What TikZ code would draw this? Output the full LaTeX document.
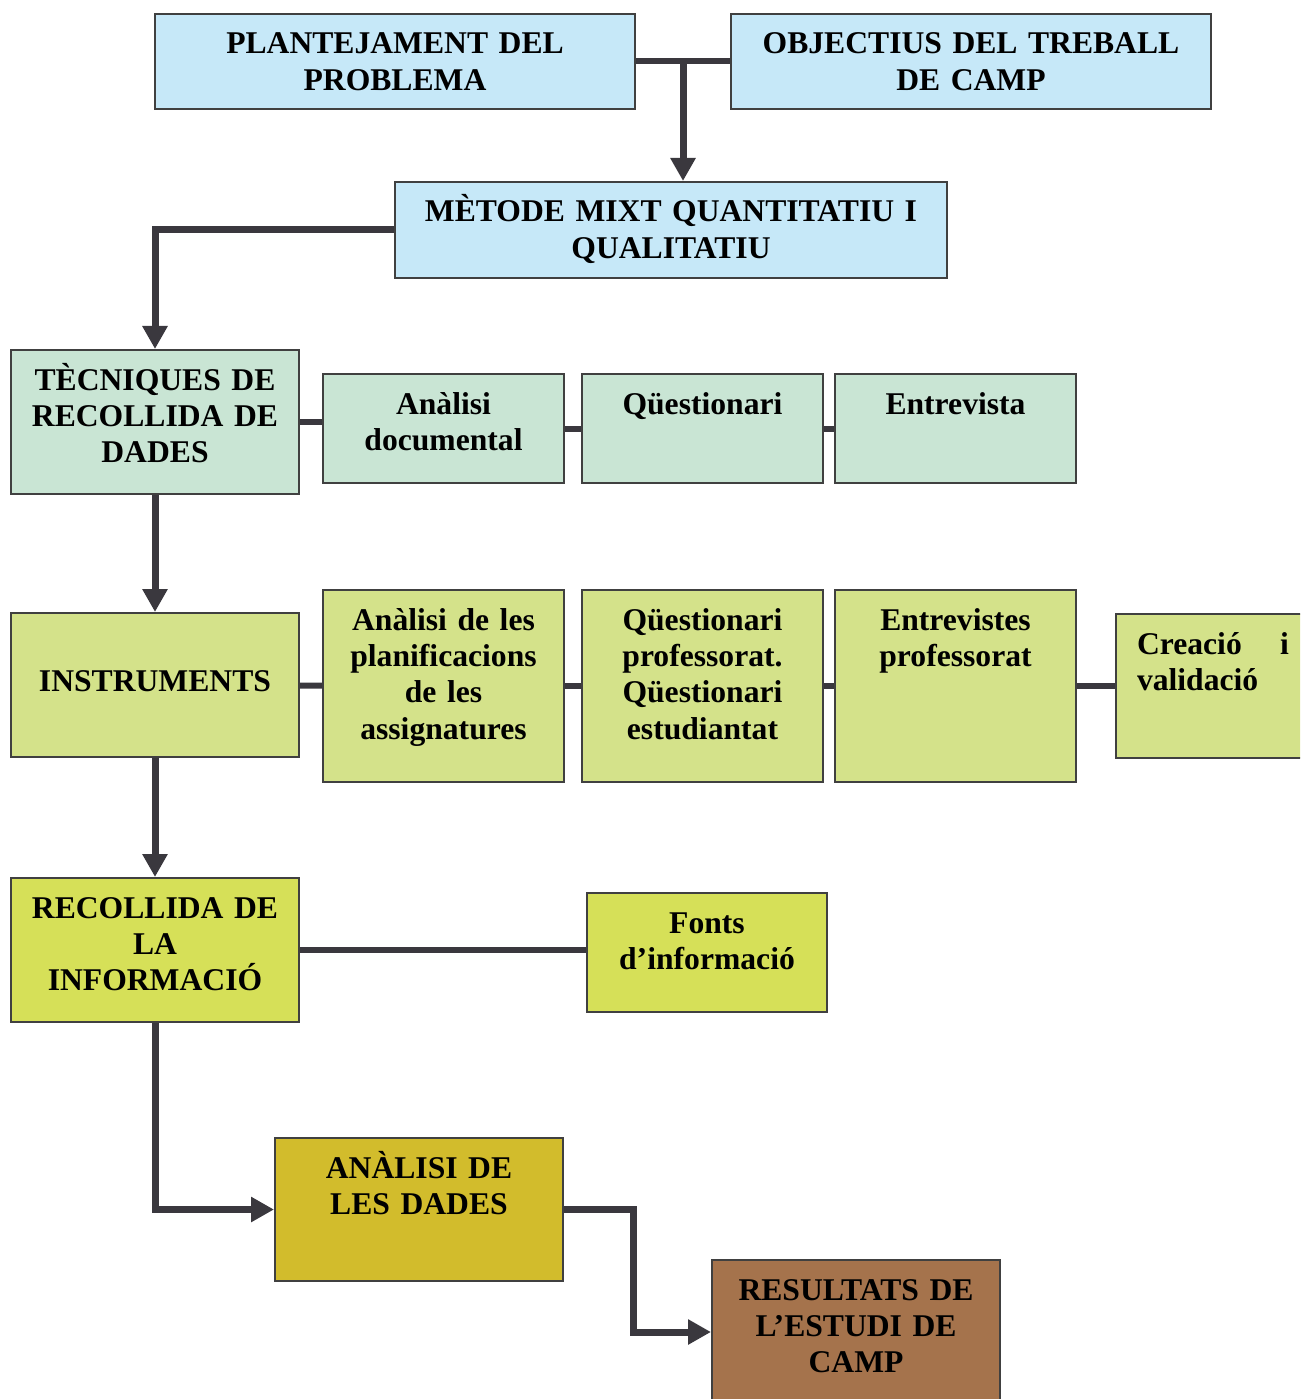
\documentclass[tikz,border=0pt]{standalone}
\usepackage{fontspec}
\setmainfont{Liberation Serif}
\usetikzlibrary{positioning,arrows.meta,calc}
\definecolor{blau}{RGB}{198,232,248}
\definecolor{verd}{RGB}{201,229,212}
\definecolor{oliva}{RGB}{212,226,138}
\definecolor{llima}{RGB}{214,224,88}
\definecolor{mostassa}{RGB}{210,188,44}
\definecolor{terra}{RGB}{165,115,76}
\definecolor{vora}{RGB}{64,64,64}
\definecolor{fosc}{RGB}{58,56,62}

\begin{document}
\begin{tikzpicture}[
  box/.style={rectangle,draw=vora,line width=0.04cm,anchor=north,align=center,
    inner xsep=0.1cm,inner ysep=0pt,text height=0.8cm,
    font=\fontsize{18}{20.7}\selectfont\bfseries},
  gran/.style={box,text width=5.56cm,text depth=2.08cm},
  mitja/.style={box,text width=4.62cm},
  lnk/.style={line width=0.12cm,draw=fosc},
  arr/.style={line width=0.14cm,draw=fosc,-{Triangle[length=0.46cm,width=0.48cm]}}]
\useasboundingbox (0,0) rectangle (26,-27.98);
\clip (0,0) rectangle (26,-27.98);
\node[box,fill=blau,text width=9.4cm,text depth=1.1cm] (plant) at (7.9,-0.26) {PLANTEJAMENT DEL\\PROBLEMA};
\node[box,fill=blau,text width=9.4cm,text depth=1.1cm,right=1.88cm of plant] (obj) {OBJECTIUS DEL TREBALL\\DE CAMP};
\node[box,fill=blau,text width=10.84cm,text depth=1.12cm] (met) at (13.42,-3.62) {MÈTODE MIXT QUANTITATIU I\\QUALITATIU};
\node[gran,fill=verd] (tec) at (3.1,-6.98) {TÈCNIQUES DE\\RECOLLIDA DE\\DADES};
\node[mitja,fill=verd,text depth=1.38cm] (ana) at (8.87,-7.46) {Anàlisi\\documental};
\node[mitja,fill=verd,text depth=1.38cm,right=0.32cm of ana] (que) {Qüestionari};
\node[mitja,fill=verd,text depth=1.38cm,right=0.2cm of que] (ent) {Entrevista};
\node[gran,fill=oliva,text height=1.56cm,text depth=1.32cm] (ins) at (3.1,-12.24) {INSTRUMENTS};
\node[mitja,fill=oliva,text depth=3.04cm] (pla) at (8.87,-11.78) {Anàlisi de les\\planificacions\\de les\\assignatures};
\node[mitja,fill=oliva,text depth=3.04cm,right=0.32cm of pla] (qpe) {Qüestionari\\professorat.\\Qüestionari\\estudiantat};
\node[mitja,fill=oliva,text depth=3.04cm,right=0.2cm of qpe] (epr) {Entrevistes\\professorat};
\node[box,fill=oliva,anchor=north west,align=left,inner xsep=0.42cm,text width=3.04cm,text depth=2.08cm] (cre) at (22.3,-12.26) {Creació\hfill i\\validació};
\node[gran,fill=llima] (rec) at (3.1,-17.54) {RECOLLIDA DE\\LA\\INFORMACIÓ};
\node[box,fill=llima,text width=4.6cm,text depth=1.58cm] (fon) at (14.14,-17.84) {Fonts\\d’informació};
\node[gran,fill=mostassa,text depth=2.06cm] (adl) at (8.38,-22.74) {ANÀLISI DE\\LES DADES};
\node[gran,fill=terra] (res) at (17.12,-25.18) {RESULTATS DE\\L’ESTUDI DE\\CAMP};
\coordinate (join) at ($(plant.east)!0.5!(obj.west)$);
\draw[lnk] (plant) -- (obj);
\draw[arr] (join) -- (join |- met.north);
\draw[arr] (met.west) -| (tec.north);
\draw[arr] (tec) -- (ins);
\draw[arr] (ins) -- (rec);
\draw[arr] (rec.south) |- (adl.west);
\draw[arr] (adl.east) -- ++(1.38,0) |- (res.west);
\draw[lnk] (tec.east) -- (tec.east -| ana.west);
\draw[lnk] (ana) -- (que);
\draw[lnk] (que) -- (ent);
\draw[lnk] (ins) -- (pla);
\draw[lnk] (pla) -- (qpe);
\draw[lnk] (qpe) -- (epr);
\draw[lnk] (epr) -- (cre);
\draw[lnk] (rec.east) -- (rec.east -| fon.west);
\end{tikzpicture}
\end{document}
